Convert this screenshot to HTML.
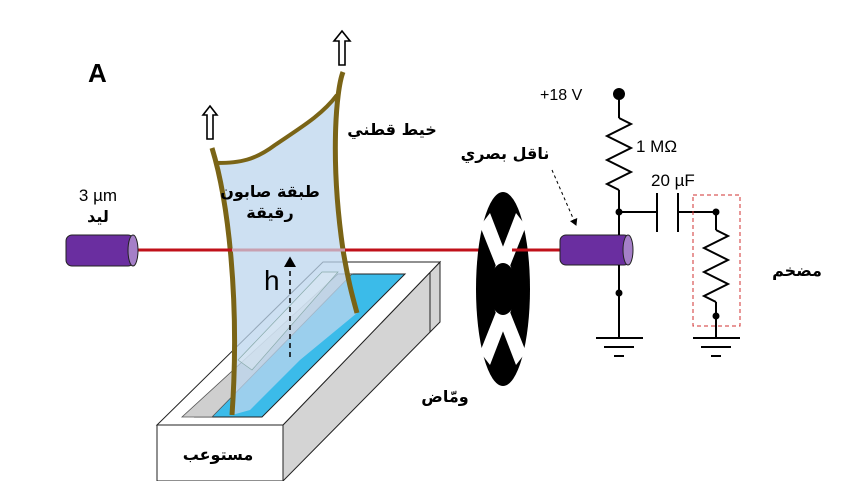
<!DOCTYPE html>
<html><head><meta charset="utf-8"><style>
html,body{margin:0;padding:0;background:#fff}
svg{display:block}
text{font-family:"Liberation Sans","DejaVu Sans","Noto Sans CJK SC",sans-serif}
.ar{font-family:"DejaVu Sans",sans-serif;font-weight:bold;font-size:16px}
</style></head><body>
<svg width="855" height="481" viewBox="0 0 855 481" xmlns="http://www.w3.org/2000/svg">
<defs>
<marker id="ah" markerWidth="8" markerHeight="8" refX="6" refY="4" orient="auto"><path d="M0,0 L7,4 L0,8 z" fill="#000"/></marker>
</defs>
<text x="88" y="82" font-size="26" font-weight="bold">A</text>

<!-- trough -->
<polygon points="283,425 440,262 440,322 283,481" fill="#d4d4d4" stroke="#222" stroke-width="1"/>
<line x1="430" y1="272" x2="430" y2="332" stroke="#222" stroke-width="1"/>
<polygon points="157,425 283,425 440,262 323,262" fill="#fff" stroke="#222" stroke-width="1"/>
<polygon points="195,417 262,417 405,274 338,274" fill="#3bbbe9" stroke="#222" stroke-width="1"/>
<polygon points="182,417 212,417 352,274 338,274" fill="#cfcfcf" stroke="#555" stroke-width="0.8"/>
<rect x="157" y="425" width="126" height="56" fill="#fff" stroke="#222" stroke-width="1"/>
<text x="218" y="460" class="ar" text-anchor="middle">مستوعب</text>

<!-- soap film -->
<path d="M214,160 C240,163 255,160 275,145 C300,128 322,115 338,92 C333,130 333,190 343,250 C348,280 352,295 357,313 L300,360 L250,410 L232,415 C240,300 228,200 214,160 z" fill="#bcd5ee" fill-opacity="0.75"/>
<polygon points="238,360 322,272 338,272 252,370" fill="#d8e6f2" fill-opacity="0.6" stroke="#8aa" stroke-width="0.7"/>
<path d="M212,148 C228,200 240,300 232,415" fill="none" stroke="#7a6416" stroke-width="5"/>
<path d="M343,72 C336,90 330,160 343,250 C348,280 352,295 357,313" fill="none" stroke="#7a6416" stroke-width="5"/>
<path d="M217,163 C240,163 255,160 275,145 C300,128 322,115 337,95" fill="none" stroke="#7a6416" stroke-width="4"/>

<!-- hollow arrows -->
<path d="M210,106 L217,115 L213,115 L213,139 L207,139 L207,115 L203,115 z" fill="#fff" stroke="#000" stroke-width="1.6"/>
<path d="M342,31 L350,41 L345,41 L345,65 L339,65 L339,41 L334,41 z" fill="#fff" stroke="#000" stroke-width="1.6"/>

<!-- laser line -->
<line x1="137" y1="250" x2="560" y2="250" stroke="#c0101a" stroke-width="3"/>
<line x1="232" y1="250" x2="345" y2="250" stroke="#c8a0b0" stroke-width="3"/>

<!-- h dashed -->
<line x1="290" y1="357" x2="290" y2="258" stroke="#000" stroke-width="1.5" stroke-dasharray="5,4" marker-end="url(#ah)"/>
<text x="264" y="290" font-size="28">h</text>

<text x="270" y="197" class="ar" text-anchor="middle">طبقة صابون</text>
<text x="270" y="218" class="ar" text-anchor="middle">رقيقة</text>
<text x="392" y="135" class="ar" text-anchor="middle">خيط قطني</text>

<!-- LED -->
<rect x="66" y="235" width="68" height="31" rx="6" fill="#6a2ea0" stroke="#222" stroke-width="1"/>
<ellipse cx="133" cy="250.5" rx="5" ry="15.5" fill="#a57fc8" stroke="#222" stroke-width="1"/>
<text x="98" y="201" font-size="17" text-anchor="middle">3 µm</text>
<text x="98" y="222" class="ar" text-anchor="middle">ليد</text>

<!-- chopper wheel -->
<ellipse cx="503" cy="289" rx="27" ry="97" fill="#000"/>
<polygon points="480,226 490,213 512,270 500,276" fill="#fff"/>
<polygon points="526,226 516,213 494,270 506,276" fill="#fff"/>
<polygon points="480,352 490,365 512,308 500,302" fill="#fff"/>
<polygon points="526,352 516,365 494,308 506,302" fill="#fff"/>
<ellipse cx="503" cy="289" rx="14" ry="26" fill="#000"/>
<line x1="512" y1="250" x2="560" y2="250" stroke="#c0101a" stroke-width="3"/>
<text x="445" y="402" class="ar" text-anchor="middle">ومّاض</text>

<!-- photodetector -->
<rect x="560" y="235" width="70" height="30" rx="6" fill="#6a2ea0" stroke="#222" stroke-width="1"/>
<ellipse cx="628" cy="250" rx="5" ry="15" fill="#a57fc8" stroke="#222" stroke-width="1"/>
<text x="505" y="159" class="ar" text-anchor="middle">ناقل بصري</text>
<line x1="552" y1="170" x2="576" y2="225" stroke="#000" stroke-width="1" stroke-dasharray="3,3" marker-end="url(#ah)"/>

<!-- circuit -->
<g stroke="#000" stroke-width="2" fill="none">
<line x1="619" y1="94" x2="619" y2="118"/>
<polyline points="619,118 631,124 607,136 631,148 607,160 631,172 607,184 619,190"/>
<line x1="619" y1="190" x2="619" y2="235"/>
<line x1="619" y1="265" x2="619" y2="338"/>
<line x1="619" y1="212" x2="657" y2="212"/>
<line x1="657" y1="193" x2="657" y2="232"/>
<line x1="678" y1="193" x2="678" y2="232"/>
<line x1="678" y1="212" x2="716" y2="212"/>
<line x1="716" y1="212" x2="716" y2="230"/>
<polyline points="716,230 728,236 704,248 728,260 704,272 728,284 704,296 716,302"/>
<line x1="716" y1="302" x2="716" y2="338"/>
<line x1="596" y1="338" x2="643" y2="338"/>
<line x1="604" y1="347" x2="634" y2="347"/>
<line x1="614" y1="356" x2="624" y2="356"/>
<line x1="693" y1="338" x2="740" y2="338"/>
<line x1="701" y1="347" x2="731" y2="347"/>
<line x1="711" y1="356" x2="721" y2="356"/>
</g>
<circle cx="619" cy="94" r="6" fill="#000"/>
<circle cx="619" cy="212" r="3.5" fill="#000"/>
<circle cx="619" cy="293" r="3.5" fill="#000"/>
<circle cx="716" cy="212" r="3.5" fill="#000"/>
<circle cx="716" cy="316" r="3.5" fill="#000"/>
<rect x="693" y="195" width="47" height="131" fill="none" stroke="#d03030" stroke-width="1" stroke-dasharray="4,3"/>
<text x="540" y="100" font-size="16">+18 V</text>
<text x="636" y="152" font-size="17">1 MΩ</text>
<text x="651" y="186" font-size="17">20 µF</text>
<text x="797" y="276" class="ar" text-anchor="middle">مضخم</text>
</svg>
</body></html>
